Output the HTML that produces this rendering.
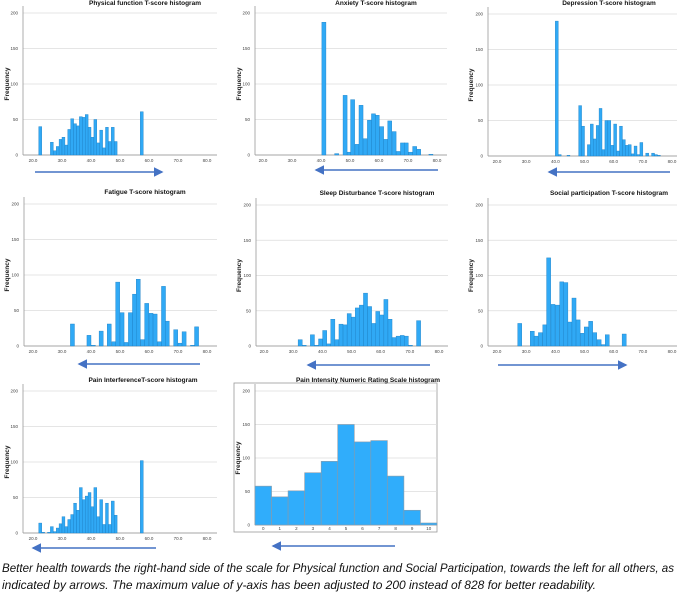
<!DOCTYPE html>
<html><head><meta charset="utf-8"><style>
html,body{margin:0;padding:0;background:#fff;}
svg{display:block;font-family:"Liberation Sans",sans-serif;}
</style></head><body>
<svg id="fig" width="685" height="605" viewBox="0 0 685 605">
<defs>
<marker id="ah" markerWidth="6" markerHeight="6" refX="5" refY="3" orient="auto" markerUnits="strokeWidth">
<path d="M0,0 L6,3 L0,6 z" fill="#4472c4"/>
</marker>
</defs>
<g id="panels"></g>
<text x="2" y="572" font-size="12" font-style="italic" fill="#111" textLength="672" lengthAdjust="spacingAndGlyphs">Better health towards the right-hand side of the scale for Physical function and Social Participation, towards the left for all others, as</text>
<text x="2" y="589" font-size="12" font-style="italic" fill="#111" textLength="594" lengthAdjust="spacingAndGlyphs">indicated by arrows. The maximum value of y-axis has been adjusted to 200 instead of 828 for better readability.</text>
</svg>
<script>
const yTicks = [0, 50, 100, 150, 200];
const tTicks = ["20.0","30.0","40.0","50.0","60.0","70.0","80.0"];

const physStarts = [22,26,27,28,29,30,31,32,33,34,35,36,37,38,39,40,41,42,43,44,45,46,47,48,57];
const physCounts = [40,18,6,12,22,25,14,36,51,44,41,54,53,57,39,25,50,17,35,10,39,19,39,19,61];

const anxStarts = [40.3,44.7,47.6,49.0,50.2,51.7,53.1,54.5,56.0,57.4,58.7,60.2,61.6,63.0,64.5,65.9,67.4,68.7,70.2,71.6,73.0,77.2];
const anxCounts = [187,2,84,4,78,15,70,23,49,58,56,40,22,48,33,5,17,17,4,12,8,1];

const depStarts = [40,41,44,48,49,51,52,53,54,55,56,57,58,59,60,61,62,63,64,65,66,67,68,69,71,73,74,75];
const depCounts = [190,2,1,71,42,16,45,24,43,67,9,50,50,15,45,7,42,23,15,16,3,14,2,19,4,4,2,1];

const fatStarts = [32.9,38.6,40.1,42.8,45.6,47.2,48.5,50.0,51.4,52.9,54.3,55.6,57.1,58.5,60.0,61.4,62.9,64.3,65.6,68.5,70.0,71.4,74.3,75.7];
const fatCounts = [31,15,1,21,31,6,90,47,5,47,73,94,9,60,46,45,6,84,35,23,4,20,1,27];

const slpStarts = [31.7,33.1,35.9,37.3,38.7,40.1,41.5,42.9,44.3,45.7,47.1,48.5,49.9,51.3,52.7,54.1,55.5,56.9,58.3,59.7,61.1,62.5,63.9,65.3,66.7,68.1,69.5,72.3];
const slpCounts = [9,1,16,1,10,22,3,38,9,31,30,46,41,54,58,75,56,32,49,44,66,38,12,14,15,14,1,36];

const socStarts = [27.1,31.4,32.7,34.2,35.7,37.0,38.5,40.0,41.5,42.9,44.3,45.7,47.1,48.6,49.9,51.4,52.8,54.3,55.8,57.1,62.9];
const socCounts = [32,21,14,19,30,125,59,58,91,90,34,68,37,18,27,35,19,9,2,16,17];

const piStarts = [22,23,25,26,27,28,29,30,31,32,33,34,35,36,37,38,39,40,41,42,43,44,45,46,47,48,57];
const piCounts = [14,1,1,9,2,7,13,23,9,19,26,42,32,64,47,52,57,37,64,23,47,12,42,12,45,25,102];

const nrsCats = ["0","1","2","3","4","5","6","7","8","9","10"];
const nrsCounts = [58,42,51,78,95,150,124,126,73,22,3];

const NS = "http://www.w3.org/2000/svg";
const root = document.getElementById("panels");
function mk(tag, attrs, parent, txt){
  const e = document.createElementNS(NS, tag);
  for (const k in attrs) e.setAttribute(k, attrs[k]);
  if (txt !== undefined) e.textContent = txt;
  (parent || root).appendChild(e);
  return e;
}

function axesFrame(g, c){
  const y = v => c.base - (v/200)*(c.base - c.top);
  yTicks.forEach(t => {
    const gl = mk("line",{x1:c.left,x2:c.right,y1:y(t),y2:y(t),stroke:t===0?"#888":"#dcdcdc","stroke-width":t===0?0.8:0.8},g);
    
    
    const tl = mk("text",{x:c.left-5,y:y(t)+1.5,"font-size":4.5,"text-anchor":"end",fill:"#444"},g,String(t));
    
    
  });
  const ax = mk("line",{x1:c.left,x2:c.left,y1:c.top-7,y2:c.base,stroke:"#999","stroke-width":0.8},g);
  
  
  const yl = mk("text",{x:c.ylabX,y:(c.top+c.base)/2,"font-size":6.5,"font-weight":"bold","text-anchor":"middle",fill:"#222",transform:`rotate(-90 ${c.ylabX} ${(c.top+c.base)/2})`},g,"Frequency");
  
  
  const ti = mk("text",{x:c.titleX,y:c.titleY,"font-size":6.5,"font-weight":"bold","text-anchor":"middle",fill:"#111"},g,c.title);
  
  
  return y;
}

function arrow(g, x1, x2, yy){
  const a = mk("line",{x1:x1,x2:x2,y1:yy,y2:yy,stroke:"#4472c4","stroke-width":1.6,"marker-end":"url(#ah)"},g);
  
  
}

function tPanel(c, starts, counts){
  const g = mk("g",{});
  
  
  const y = axesFrame(g, c);
  const x = v => c.x20 + (v-20)*(c.x80-c.x20)/60;
  tTicks.forEach((t,i) => {
    const tl = mk("text",{x:x(20+i*10),y:c.base+7,"font-size":4.5,"text-anchor":"middle",fill:"#444"},g,t);
    
    
  });
  starts.forEach((s,i) => {
    const r = mk("rect",{x:x(s),y:y(counts[i]),width:x(s+c.binW)-x(s),height:c.base-y(counts[i]),fill:"#30a9f5",stroke:"#1c7fc4","stroke-width":0.4},g);
    
    
  });
  arrow(g, c.a1, c.a2, c.ay);
}

tPanel({name:"physical-function-panel",title:"Physical function T-score histogram",left:23,right:217,top:13,base:155,x20:33,x80:207,binW:1.0,ylabX:9,titleX:145,titleY:5,a1:35,a2:162,ay:172}, physStarts, physCounts);
tPanel({name:"anxiety-panel",title:"Anxiety T-score histogram",left:255,right:447,top:13,base:155,x20:263,x80:437,binW:1.4,ylabX:241,titleX:376,titleY:5,a1:438,a2:316,ay:170}, anxStarts, anxCounts);
tPanel({name:"depression-panel",title:"Depression T-score histogram",left:488,right:677,top:14,base:156,x20:497,x80:672,binW:1.0,ylabX:473,titleX:609,titleY:5,a1:670,a2:549,ay:172}, depStarts, depCounts);
tPanel({name:"fatigue-panel",title:"Fatigue T-score histogram",left:24,right:217,top:204,base:346,x20:33,x80:207,binW:1.4,ylabX:9,titleX:145,titleY:194,a1:200,a2:79,ay:364}, fatStarts, fatCounts);
tPanel({name:"sleep-disturbance-panel",title:"Sleep Disturbance T-score histogram",left:256,right:448,top:205,base:346,x20:264,x80:439,binW:1.4,ylabX:241,titleX:377,titleY:195,a1:430,a2:308,ay:365}, slpStarts, slpCounts);
tPanel({name:"social-participation-panel",title:"Social participation T-score histogram",left:488,right:677,top:205,base:346,x20:497,x80:672,binW:1.4,ylabX:473,titleX:609,titleY:195,a1:498,a2:626,ay:365}, socStarts, socCounts);
tPanel({name:"pain-interference-panel",title:"Pain InterferenceT-score histogram",left:23,right:217,top:391,base:533,x20:33,x80:207,binW:1.0,ylabX:9,titleX:143,titleY:382,a1:156,a2:33,ay:548}, piStarts, piCounts);

(function(){
  const c = {name:"pain-intensity-panel",title:"Pain Intensity Numeric Rating Scale histogram",left:255,right:437,top:391,base:525,ylabX:240,titleX:368,titleY:382};
  const g = mk("g",{});
  
  
  const box = mk("rect",{x:234,y:383,width:203,height:149,fill:"none",stroke:"#999","stroke-width":0.8},g);
  
  
  const y = axesFrame(g, c);
  const bw = (c.right - c.left)/nrsCats.length;
  nrsCats.forEach((cat,i) => {
    const r = mk("rect",{x:c.left+i*bw,y:y(nrsCounts[i]),width:bw,height:c.base-y(nrsCounts[i]),fill:"#30adfb",stroke:"#8a9aa8","stroke-width":0.6},g);
    
    
    const tl = mk("text",{x:c.left+(i+0.5)*bw,y:c.base+5,"font-size":4.5,"text-anchor":"middle",fill:"#444"},g,cat);
    
    
  });
  arrow(g, 395, 273, 546);
})();
</script>
</body></html>
